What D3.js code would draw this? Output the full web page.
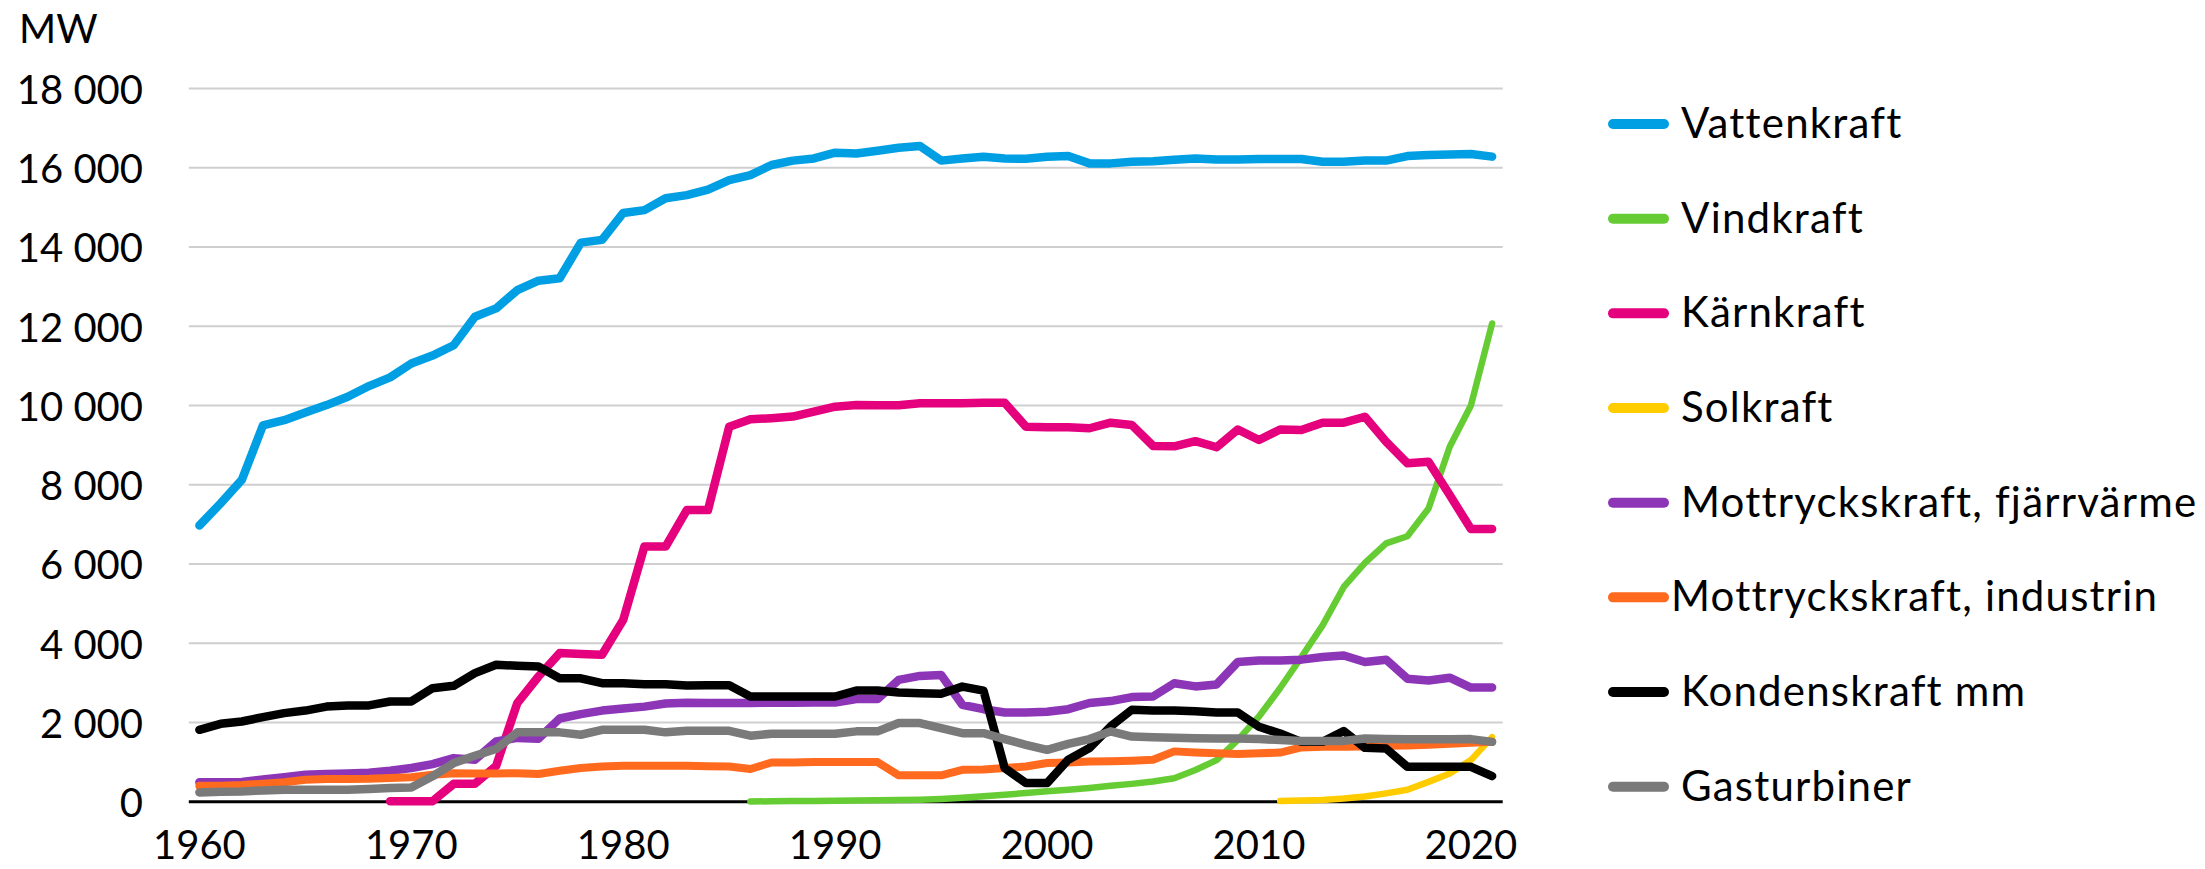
<!DOCTYPE html>
<html><head><meta charset="utf-8">
<script src="https://cdn.jsdelivr.net/npm/d3@7"></script>
<style>
html,body{margin:0;padding:0;background:#fff;}
svg text{font-family:Lato,"Open Sans",sans-serif;fill:#000;}
</style></head>
<body><svg id="c" width="2205" height="869"></svg>
<script>
const years = d3.range(1960, 2022);
const seriesNames = ["Vattenkraft","Vindkraft","Kärnkraft","Solkraft","Mottryckskraft, fjärrvärme","Mottryckskraft, industrin","Kondenskraft mm","Gasturbiner"];
const seriesColors = ["#009fe3","#66cc33","#e5007d","#ffcc00","#8c35b6","#ff6a1f","#000000","#7a7a7a"];
const xTickYears = [1960,1970,1980,1990,2000,2010,2020];
const yTicks = [0,2000,4000,6000,8000,10000,12000,14000,16000,18000];
const yUnit = "MW";
const N = null;

const vattenkraft = [6970,7530,8120,9500,9630,9820,10010,10220,10490,10710,11060,11260,11520,12240,12450,12910,13150,13210,14110,14180,14860,14930,15230,15310,15450,15690,15815,16070,16180,16235,16380,16360,16430,16505,16550,16180,16235,16280,16235,16225,16275,16295,16110,16110,16150,16165,16200,16235,16210,16210,16220,16220,16220,16150,16150,16180,16180,16295,16320,16335,16345,16280];
const vindkraft = [N,N,N,N,N,N,N,N,N,N,N,N,N,N,N,N,N,N,N,N,N,N,N,N,N,N,5,10,15,20,25,30,35,40,50,70,100,140,175,220,265,300,345,400,450,510,590,800,1050,1560,2150,2870,3650,4450,5420,6030,6520,6700,7400,8960,10000,12070];
const karnkraft = [N,N,N,N,N,N,N,N,N,10,10,10,450,450,900,2490,3160,3750,3730,3710,4590,6440,6440,7360,7360,9465,9650,9680,9720,9845,9970,10010,10005,10005,10055,10055,10055,10070,10070,9465,9450,9450,9425,9565,9505,8980,8970,9100,8945,9395,9130,9395,9380,9565,9565,9715,9085,8540,8580,7740,6880,6880];
const solkraft = [N,N,N,N,N,N,N,N,N,N,N,N,N,N,N,N,N,N,N,N,N,N,N,N,N,N,N,N,N,N,N,N,N,N,N,N,N,N,N,N,N,N,N,N,N,N,N,N,N,N,N,20,30,45,80,130,210,300,500,710,1050,1630];
const fjarrvarme = [490,490,500,560,620,680,700,710,730,780,850,950,1100,1060,1520,1610,1590,2100,2210,2300,2350,2400,2480,2500,2490,2490,2490,2500,2500,2505,2505,2590,2590,3075,3175,3200,2445,2335,2250,2250,2270,2335,2490,2540,2640,2655,2990,2910,2960,3525,3565,3565,3585,3650,3690,3525,3585,3105,3060,3130,2880,2880];
const industrin = [400,405,420,455,490,555,570,575,580,600,615,680,720,710,710,720,700,780,850,890,905,905,905,905,895,890,825,990,990,1000,1000,1000,1000,665,665,665,805,810,850,890,975,990,1015,1020,1035,1060,1270,1240,1220,1205,1220,1240,1370,1385,1385,1390,1410,1420,1440,1465,1490,1510];
const kondenskraft = [1815,1965,2025,2135,2235,2300,2400,2430,2430,2530,2530,2865,2925,3245,3455,3430,3410,3115,3115,2990,2990,2965,2965,2935,2940,2940,2655,2655,2655,2655,2655,2805,2805,2755,2740,2725,2905,2805,850,470,470,1060,1355,1900,2320,2300,2300,2285,2250,2250,1890,1720,1510,1510,1785,1360,1340,880,880,880,880,645];
const gasturbiner = [235,250,260,285,300,300,300,300,320,345,360,640,975,1160,1330,1750,1750,1750,1690,1815,1815,1815,1750,1790,1790,1790,1665,1715,1715,1715,1715,1775,1775,1985,1985,1855,1730,1730,1580,1435,1310,1460,1580,1775,1645,1625,1615,1600,1595,1595,1580,1555,1535,1530,1535,1595,1580,1575,1575,1575,1580,1510];

const seriesValues = [vattenkraft,vindkraft,karnkraft,solkraft,fjarrvarme,industrin,kondenskraft,gasturbiner];
const seriesWidths = [8.5,6.5,8.5,6.5,8.5,8,8.5,8.5];

const svg = d3.select("#c");
const plotL = 188.8, plotR = 1502.7, plotT = 88.5, plotB = 801.7;

const x = d3.scaleBand().domain(years).range([plotL, plotR]).padding(0);
const xc = yr => x(yr) + x.bandwidth()/2;
const y = d3.scaleLinear().domain([0, 18000]).range([plotB, plotT]);
const loc = d3.formatLocale({decimal:",", thousands:" ", grouping:[3], currency:["","kr"]});
const fmt = loc.format(",d");

// gridlines
svg.append("g").selectAll("line").data(yTicks.filter(d => d > 0)).join("line")
  .attr("x1", plotL).attr("x2", plotR)
  .attr("y1", d => y(d)).attr("y2", d => y(d))
  .attr("stroke", "#cfcfcf").attr("stroke-width", 2);

// y axis labels
const yAxis = d3.axisLeft(y).tickValues(yTicks).tickFormat(fmt).tickSize(0).tickPadding(0);
const yg = svg.append("g").attr("transform", `translate(143,0)`).call(yAxis);
yg.select(".domain").remove();
yg.selectAll("text").attr("font-size", 40).attr("font-family", "Lato").attr("fill", "#000")
  .attr("dy", null).attr("dominant-baseline", "central").attr("text-anchor", "end");

// x axis labels
const xAxis = d3.axisBottom(x).tickValues(xTickYears).tickSize(0).tickPadding(0);
const xg = svg.append("g").call(xAxis);
xg.select(".domain").remove();
xg.selectAll("text").attr("font-size", 40).attr("font-family", "Lato").attr("fill", "#000")
  .attr("y", 859).attr("dy", null).attr("text-anchor", "middle");

// zero axis line
svg.append("line").attr("x1", plotL).attr("x2", plotR).attr("y1", y(0)).attr("y2", y(0))
  .attr("stroke", "#000").attr("stroke-width", 3);

// series
const line = d3.line().defined(d => d.v !== null).x(d => xc(d.yr)).y(d => y(d.v));
seriesValues.forEach((vals, i) => {
  const pts = years.map((yr, j) => ({yr, v: vals[j]}));
  svg.append("path").datum(pts).attr("d", line)
    .attr("fill", "none").attr("stroke", seriesColors[i]).attr("stroke-width", seriesWidths[i])
    .attr("stroke-linejoin", "round").attr("stroke-linecap", "round");
});

// unit label
svg.append("text").attr("x", 19).attr("y", 43).attr("font-size", 40).text(yUnit);

// legend
const legY = d3.scalePoint().domain(seriesNames).range([124, 786.7]);
const lg = svg.append("g");
seriesNames.forEach((name, i) => {
  const cy = legY(name);
  lg.append("line").attr("x1", 1613).attr("x2", 1664).attr("y1", cy).attr("y2", cy)
    .attr("stroke", seriesColors[i]).attr("stroke-width", 10).attr("stroke-linecap", "round");
  lg.append("text").attr("x", name === "Mottryckskraft, industrin" ? 1671 : 1681)
    .attr("y", cy + 14).attr("font-size", 42).attr("letter-spacing", 1.2).text(name);
});
</script></body></html>
